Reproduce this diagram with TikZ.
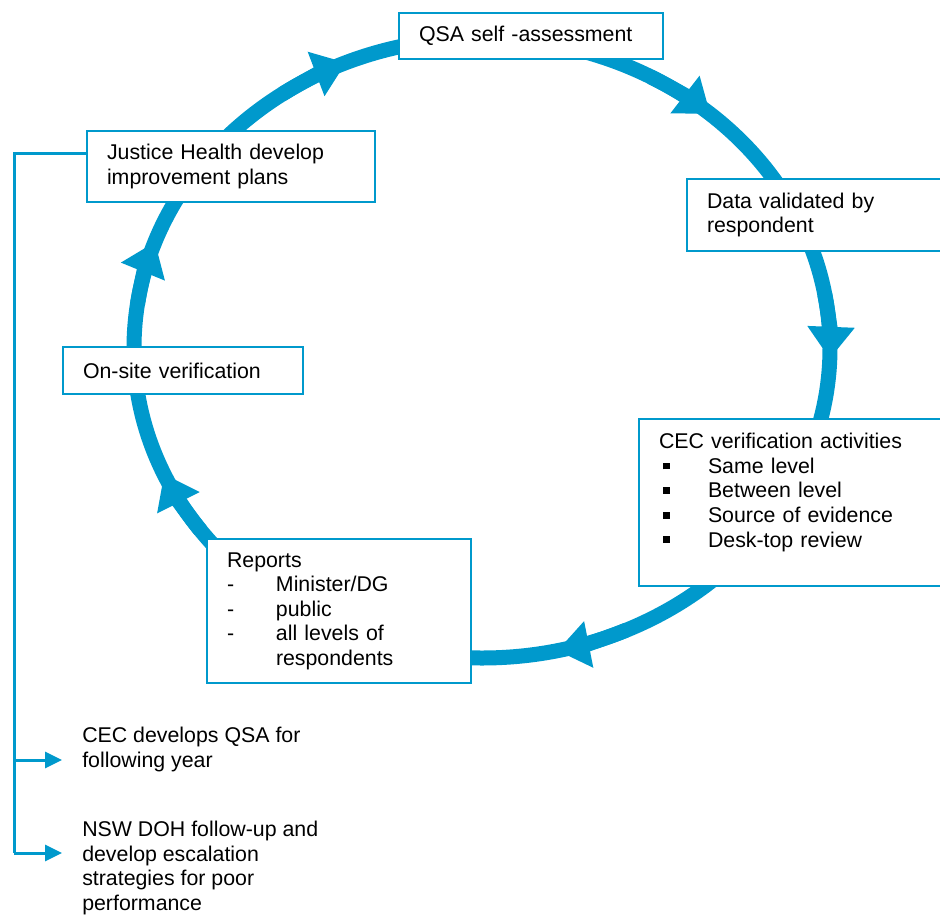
\documentclass[tikz,border=0pt]{standalone}
\usepackage{fontspec}
\setmainfont{Liberation Sans}
\usetikzlibrary{arrows.meta}
\definecolor{cycleblue}{RGB}{0,153,204}

\newcommand{\sqbullet}{\hspace*{3pt}\makebox[33.75pt][l]{\rule[3pt]{5pt}{5pt}}}
\newcommand{\dashitem}{\makebox[36.75pt][l]{-}}

\begin{document}
\begin{tikzpicture}[x=0.75pt,y=-0.75pt,font=\fontsize{16}{18.4}\selectfont,
                    cycletip/.tip={Triangle[length=24pt,width=34pt]},
                    feedtip/.tip={Triangle[length=12.75pt,width=12pt]}]
          \tikzstyle{cycle}=[draw=cycleblue,line width=11.25pt]
          \tikzstyle{stage}=[draw=cycleblue,line width=1.5pt,fill=white,anchor=north west,
                             align=left,inner xsep=15pt,inner ysep=0pt]
          \tikzstyle{feed}=[draw=cycleblue,line width=2.25pt]
          \tikzstyle{note}=[anchor=north west,align=left,inner sep=0pt]

          \useasboundingbox (0,0) rectangle (940,915);
          \clip (0,0) rectangle (940,915);

          % the cycle
          \draw[cycle] (482,348) ellipse [x radius=261pt,y radius=232.5pt];
          \draw[cycle,-cycletip] (482,348) ++(125:261pt and 232.5pt)
                arc [start angle=125,end angle=113,x radius=261pt,y radius=232.5pt];
          \draw[cycle,-cycletip] (482,348) ++(61:261pt and 232.5pt)
                arc [start angle=61,end angle=49,x radius=261pt,y radius=232.5pt];
          \draw[cycle,-cycletip] (482,348) ++(10:261pt and 232.5pt)
                arc [start angle=10,end angle=-2,x radius=261pt,y radius=232.5pt];
          \draw[cycle,-cycletip] (482,348) ++(-65.5:261pt and 232.5pt)
                arc [start angle=-65.5,end angle=-77.5,x radius=261pt,y radius=232.5pt];
          \draw[cycle,-cycletip] (482,348) ++(216:261pt and 232.5pt)
                arc [start angle=216,end angle=204,x radius=261pt,y radius=232.5pt];
          \draw[cycle,-cycletip] (482,348) ++(172:261pt and 232.5pt)
                arc [start angle=172,end angle=160,x radius=261pt,y radius=232.5pt];

          % stages
          \node[stage,text width=168pt,minimum height=34.5pt] (qsa) at (398,12)
                {QSA self -assessment};
          \node[stage,text width=163.5pt,minimum height=54pt] (validated) at (686,178)
                {Data validated by\\respondent};
          \node[stage,text width=199.5pt,minimum height=125.25pt] (cecverify) at (638,418)
                {CEC verification activities\\
                 \sqbullet Same level\\
                 \sqbullet Between level\\
                 \sqbullet Source of evidence\\
                 \sqbullet Desk-top review\\
                 \mbox{}};
          \node[stage,text width=168pt,minimum height=108pt] (reports) at (206,538)
                {Reports\\
                 \dashitem Minister/DG\\
                 \dashitem public\\
                 \dashitem all levels of\\
                 \hspace*{36.75pt}respondents};
          \node[stage,text width=150pt,minimum height=35.25pt] (onsite) at (62,346)
                {On-site verification};
          \node[stage,text width=186pt,minimum height=53.25pt] (justice) at (86,130)
                {Justice Health develop\\improvement plans};

          % follow-up
          \node[note] (cecnext) at (82,727) {CEC develops QSA for\\following year};
          \node[note] (dohnext) at (82,821)
                {NSW DOH follow-up and\\develop escalation\\strategies for poor\\performance};

          \coordinate (corner) at (14,153);
          \coordinate (fork) at (14,760);
          \coordinate (foot) at (14,853);

          \draw[feed] (justice.west |- corner) -- (corner) -- (foot);
          \draw[feed,-feedtip,shorten >=15pt] (fork) -- (cecnext.west |- fork);
          \draw[feed,-feedtip,shorten >=15pt] (foot) -- (dohnext.west |- foot);

        \end{tikzpicture}
\end{document}
